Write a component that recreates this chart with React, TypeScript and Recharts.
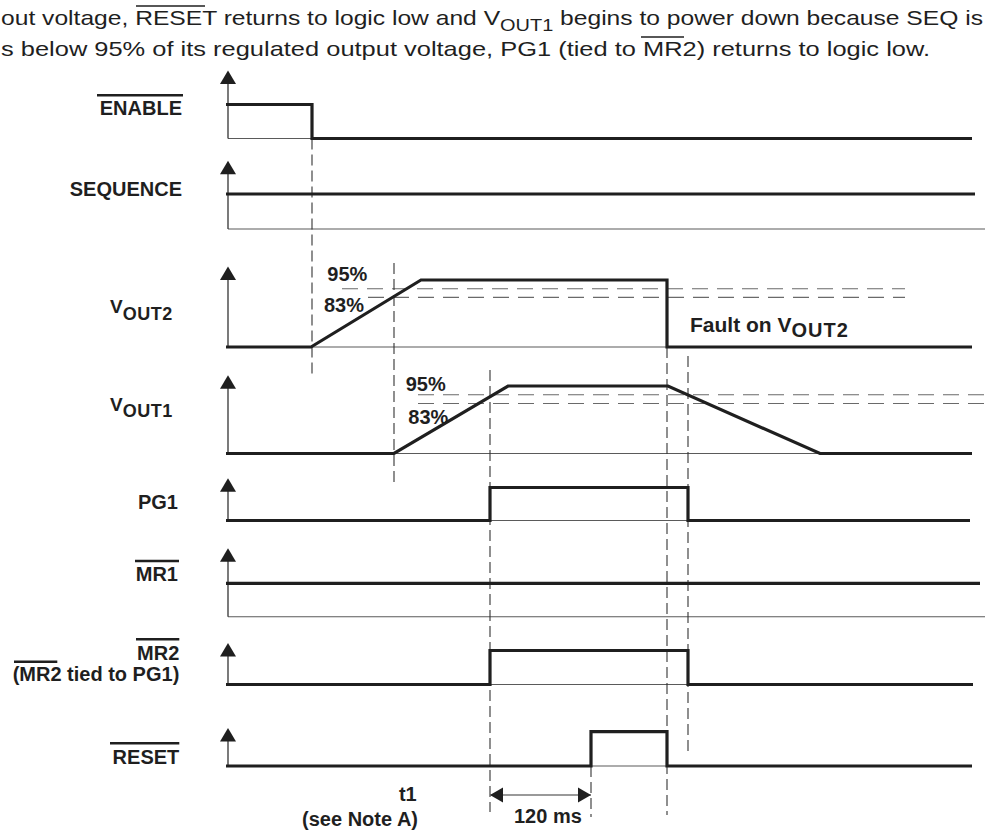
import React from 'react';
import { ComposedChart, Line, Scatter, XAxis, YAxis, ReferenceLine } from 'recharts';

const W = 985;
const H = 832;

// time in diagram units, 0 = the signal axes
const T_MIN = -228;
const T_MAX = 757;

const enableWave = [{ t: -2, v: 1 }, { t: 84, v: 1 }, { t: 84, v: 0 }, { t: 744, v: 0 }];
const sequenceWave = [{ t: -2, v: 1 }, { t: 747, v: 1 }];
const vout2Wave = [{ t: -2, v: 0 }, { t: 83, v: 0 }, { t: 193, v: 1 }, { t: 439, v: 1 }, { t: 439, v: 0 }, { t: 744, v: 0 }];
const vout1Wave = [{ t: -2, v: 0 }, { t: 166, v: 0 }, { t: 280, v: 1 }, { t: 440, v: 1 }, { t: 592, v: 0 }, { t: 744, v: 0 }];
const pg1Wave = [{ t: -2, v: 0 }, { t: 262, v: 0 }, { t: 262, v: 1 }, { t: 460, v: 1 }, { t: 460, v: 0 }, { t: 742, v: 0 }];
const mr1Wave = [{ t: -2, v: 1 }, { t: 752, v: 1 }];
const mr2Wave = [{ t: -2, v: 0 }, { t: 262, v: 0 }, { t: 262, v: 1 }, { t: 460, v: 1 }, { t: 460, v: 0 }, { t: 745, v: 0 }];
const resetWave = [{ t: -2, v: 0 }, { t: 363, v: 0 }, { t: 363, v: 1 }, { t: 439, v: 1 }, { t: 439, v: 0 }, { t: 744, v: 0 }];

// threshold levels (fraction of full output) as drawn
const thresholdLevels = [0.87, 0.74];

// row layout on the vertical axis (chart units, top = 0)
const rows = [
  { key: 'enable', wave: enableWave, base: 138.5, amp: 34, tip: 2.0, lineEnd: 84 },
  { key: 'sequence', wave: sequenceWave, base: 229, amp: 35, tip: 1.95, lineEnd: 757 },
  { key: 'vout2', wave: vout2Wave, base: 347, amp: 67, tip: 1.2, lineEnd: 439 },
  { key: 'vout1', wave: vout1Wave, base: 453.5, amp: 67.5, tip: 1.16, lineEnd: 592 },
  { key: 'pg1', wave: pg1Wave, base: 520.5, amp: 33, tip: 1.28, lineEnd: 460 },
  { key: 'mr1', wave: mr1Wave, base: 616.7, amp: 33.4, tip: 2.05, lineEnd: 757 },
  { key: 'mr2', wave: mr2Wave, base: 684.5, amp: 34, tip: 1.22, lineEnd: 460 },
  { key: 'reset', wave: resetWave, base: 766, amp: 34.3, tip: 1.11, lineEnd: 439 },
];

// threshold dashes: row, start/end time
const thresholds = [
  { row: 2, level: 0, from: 114, to: 677 },
  { row: 2, level: 1, from: 140, to: 677 },
  { row: 3, level: 0, from: 190, to: 757 },
  { row: 3, level: 1, from: 190, to: 757 },
];

// vertical timing markers: time, top, bottom
const markers = [
  { t: 84, y1: 138.5, y2: 375 },
  { t: 166, y1: 263, y2: 485 },
  { t: 262, y1: 370, y2: 812 },
  { t: 363, y1: 766, y2: 817 },
  { t: 439, y1: 347, y2: 815 },
  { t: 460, y1: 356, y2: 752 },
];

// 120 ms interval
const interval = { from: 262, to: 363, y: 795 };

const toY = (row: any, v: number) => row.base - v * row.amp;

const axisTips = rows.map((r) => ({ t: 0, y: toY(r, r.tip) }));
const intervalEnds = [
  { t: interval.from, y: interval.y, dir: -1 },
  { t: interval.to, y: interval.y, dir: 1 },
];

const INK = '#1f1f1f';
const FONT = '"Liberation Sans", Arial, Helvetica, sans-serif';

const UpArrow = (p: any) => {
  const { cx, cy } = p;
  return <polygon points={`${cx},${cy} ${cx - 8},${cy + 13.5} ${cx + 8},${cy + 13.5}`} fill={INK} />;
};

const SideArrow = (p: any) => {
  const { cx, cy, payload } = p;
  const d = payload.dir;
  return <polygon points={`${cx},${cy} ${cx - d * 13},${cy - 7.5} ${cx - d * 13},${cy + 7.5}`} fill={INK} />;
};

const Bar = ({ x1, x2, y, w = 2.6 }: any) => (
  <line x1={x1} x2={x2} y1={y} y2={y} stroke={INK} strokeWidth={w} />
);

const Labels = () => {
  const b = { fontFamily: FONT, fontWeight: 700, fontSize: 20, fill: INK } as any;
  const n = { fontFamily: FONT, fontSize: 21, fill: INK } as any;
  return (
    <svg width={W} height={H} style={{ position: 'absolute', left: 0, top: 0, pointerEvents: 'none' }}>
      <text x={1} y={25} {...n} textLength={982} lengthAdjust="spacingAndGlyphs">
        out voltage, RESET returns to logic low and V<tspan fontSize={17} dy={6}>OUT1</tspan>
        <tspan dy={-6}> begins to power down because SEQ is</tspan>
      </text>
      <Bar x1={136} x2={205} y={6} w={1.6} />
      <text x={1} y={56} {...n} textLength={929} lengthAdjust="spacingAndGlyphs">
        s below 95% of its regulated output voltage, PG1 (tied to MR2) returns to logic low.
      </text>
      <Bar x1={641} x2={684} y={37} w={1.6} />

      <text x={182} y={115} textAnchor="end" {...b}>ENABLE</text>
      <Bar x1={97} x2={183} y={95.3} />
      <text x={182} y={196} textAnchor="end" {...b}>SEQUENCE</text>
      <text x={110} y={313.3} {...b} fontSize={19}>
        V<tspan fontSize={18} dy={6.7} style={{ letterSpacing: 0.5 }}>OUT2</tspan>
      </text>
      <text x={110} y={410.7} {...b} fontSize={19}>
        V<tspan fontSize={18} dy={6} style={{ letterSpacing: 0.5 }}>OUT1</tspan>
      </text>
      <text x={178} y={509.3} textAnchor="end" {...b}>PG1</text>
      <text x={178} y={580.7} textAnchor="end" {...b}>MR1</text>
      <Bar x1={135} x2={179} y={561} />
      <text x={179.3} y={660} textAnchor="end" {...b}>MR2</text>
      <Bar x1={136} x2={179.3} y={639.3} />
      <text x={179.3} y={681} textAnchor="end" {...b}>(MR2 tied to PG1)</text>
      <Bar x1={14} x2={57.3} y={661.7} />
      <text x={179.3} y={764} textAnchor="end" {...b}>RESET</text>
      <Bar x1={110} x2={179.3} y={743.3} />

      <text x={327.3} y={280.7} {...b}>95%</text>
      <text x={324} y={312} {...b}>83%</text>
      <text x={405.7} y={390.7} {...b}>95%</text>
      <text x={408.3} y={424} {...b}>83%</text>
      <text x={690} y={331.7} {...b} fontSize={21}>
        Fault on V<tspan fontSize={20} dy={5.6} style={{ letterSpacing: 1 }}>OUT2</tspan>
      </text>

      <text x={416.7} y={801} textAnchor="end" {...b}>t1</text>
      <text x={418} y={826} textAnchor="end" {...b}>(see Note A)</text>
      <text x={514} y={823} {...b}>120 ms</text>
    </svg>
  );
};

export default function App() {
  return (
    <div style={{ position: 'fixed', left: 0, top: 0, width: W, height: H, background: '#fff', overflow: 'hidden' }}>
      <ComposedChart width={W} height={H} margin={{ top: 0, right: 0, bottom: 0, left: 0 }}>
        <XAxis type="number" dataKey="t" domain={[T_MIN, T_MAX]} allowDataOverflow hide />
        <YAxis type="number" dataKey="y" domain={[0, H]} reversed allowDataOverflow hide width={0} />

        {/* thin baselines and axes */}
        {rows.map((r) => (
          <ReferenceLine
            key={r.key + '-base'}
            segment={[{ x: 0, y: r.base }, { x: r.lineEnd, y: r.base }]}
            stroke="#5a5a5a"
            strokeWidth={1.1}
          />
        ))}
        {rows.map((r) => (
          <ReferenceLine
            key={r.key + '-axis'}
            segment={[{ x: 0, y: r.base }, { x: 0, y: toY(r, r.tip) + 6 }]}
            stroke="#333"
            strokeWidth={1.3}
          />
        ))}

        {/* threshold dashes */}
        {thresholds.map((d, i) => {
          const r = rows[d.row];
          const y = toY(r, thresholdLevels[d.level]);
          return (
            <ReferenceLine
              key={'th' + i}
              segment={[{ x: d.from, y }, { x: d.to, y }]}
              stroke="#6a6a6a"
              strokeWidth={1.1}
              strokeDasharray="16 9"
            />
          );
        })}

        {/* timing markers */}
        {markers.map((m, i) => (
          <ReferenceLine
            key={'m' + i}
            segment={[{ x: m.t, y: m.y1 }, { x: m.t, y: m.y2 }]}
            stroke="#333"
            strokeWidth={1.1}
            strokeDasharray="11 5"
          />
        ))}

        <ReferenceLine
          segment={[{ x: interval.from, y: interval.y }, { x: interval.to, y: interval.y }]}
          stroke="#777"
          strokeWidth={1.3}
        />

        {rows.map((r) => (
          <Line
            key={r.key}
            data={r.wave.map((p) => ({ t: p.t, y: toY(r, p.v) }))}
            dataKey="y"
            type="linear"
            stroke={INK}
            strokeWidth={3.2}
            strokeLinejoin="miter"
            dot={false}
            activeDot={false}
            isAnimationActive={false}
          />
        ))}

        <Scatter data={axisTips} shape={<UpArrow />} isAnimationActive={false} />
        <Scatter data={intervalEnds} shape={<SideArrow />} isAnimationActive={false} />
      </ComposedChart>
      <Labels />
    </div>
  );
}
